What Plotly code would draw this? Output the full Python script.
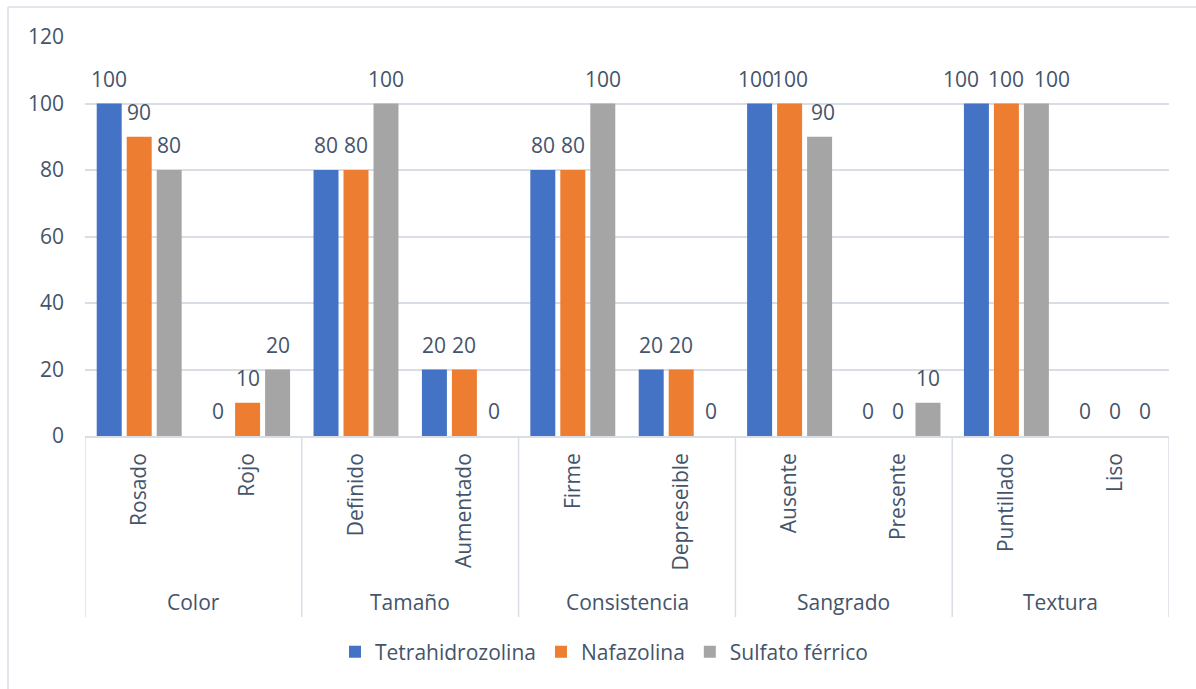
import plotly.graph_objects as go

# Grouped characteristics and their sub-categories
groups = ["Color", "Tamaño", "Consistencia", "Sangrado", "Textura"]
subcategories = ["Rosado", "Rojo", "Definido", "Aumentado", "Firme",
                 "Depreseible", "Ausente", "Presente", "Puntillado", "Liso"]
per_group = 2

series_names = ["Tetrahidrozolina", "Nafazolina", "Sulfato férrico"]
tetrahidrozolina = [100, 0, 80, 20, 80, 20, 100, 0, 100, 0]
nafazolina = [90, 10, 80, 20, 80, 20, 100, 0, 100, 0]
sulfato_ferrico = [80, 20, 100, 0, 100, 0, 90, 10, 100, 0]

y_ticks = [0, 20, 40, 60, 80, 100, 120]

colors = ["#4472C4", "#ED7D31", "#A5A5A5"]
text_color = "#44546A"
line_color = "#D9DEE6"
font_family = "Open Sans, Segoe UI, sans-serif"

W, H = 1196, 689
ML, MR, MT, MB = 85, 27, 37, 253
PW, PH = W - ML - MR, H - MT - MB

BARGAP = 0.17
slot = (1 - BARGAP) / 3          # width of one series slot, in category units
# spread crowded labels apart within a cluster (category -> extra spread)
label_spread = {"Ausente": 0.035, "Puntillado": 0.14}

fig = go.Figure()
all_series = [tetrahidrozolina, nafazolina, sulfato_ferrico]
for name, vals, col in zip(series_names, all_series, colors):
    fig.add_trace(go.Bar(
        name=name, x=subcategories, y=vals,
        marker=dict(color=col, line=dict(width=0)),
        hoverinfo="x+y+name",
    ))

def px_x(px):
    return (px - ML) / PW

def px_y(py):
    return (H - MB - py) / PH

annotations = []
# value labels above each bar
for k, vals in enumerate(all_series):
    for i, (cat, v) in enumerate(zip(subcategories, vals)):
        off = (k - 1) * (slot + label_spread.get(cat, 0))
        annotations.append(dict(
            x=i + off, xref="x", y=v, yref="y", yshift=25,
            text=str(v), showarrow=False, xanchor="center", yanchor="middle",
            font=dict(size=21, color=text_color, family=font_family)))

shapes = []
# group dividers below the axis
axis_bottom = px_y(617)
for k in range(len(groups) + 1):
    xpos = k * per_group - 0.5
    shapes.append(dict(type="line", xref="x", yref="paper", x0=xpos, x1=xpos,
                       y0=0, y1=axis_bottom, line=dict(color=line_color, width=1.5)))
# chart frame (left and top edges)
shapes.append(dict(type="line", xref="paper", yref="paper", x0=px_x(8), x1=px_x(8),
                   y0=px_y(7), y1=px_y(H + 5), line=dict(color=line_color, width=1.5)))
shapes.append(dict(type="line", xref="paper", yref="paper", x0=px_x(8), x1=px_x(W + 5),
                   y0=px_y(7), y1=px_y(7), line=dict(color=line_color, width=1.5)))

for k, g in enumerate(groups):
    annotations.append(dict(
        x=k * per_group + 0.5, xref="x", y=px_y(602), yref="paper",
        text=g, showarrow=False, xanchor="center", yanchor="middle",
        font=dict(size=21, color=text_color, family=font_family)))

fig.update_layout(
    width=W, height=H,
    margin=dict(l=ML, r=MR, t=MT, b=MB, pad=0),
    paper_bgcolor="white", plot_bgcolor="white",
    barmode="group", bargap=BARGAP, bargroupgap=0.167,
    font=dict(family=font_family, size=21, color=text_color),
    showlegend=True,
    legend=dict(orientation="h", x=px_x(604), xanchor="center", y=px_y(652), yanchor="middle",
                font=dict(size=21, color=text_color, family=font_family),
                traceorder="normal", itemwidth=30),
    shapes=shapes, annotations=annotations,
    xaxis=dict(type="category", categoryorder="array", categoryarray=subcategories,
               range=[-0.5, len(subcategories) - 0.5],
               tickangle=-90, showgrid=False, showline=True, linecolor=line_color,
               linewidth=1.5, ticks="", ticklabelstandoff=7,
               tickfont=dict(size=21, color=text_color, family=font_family)),
    yaxis=dict(range=[0, 120], tickvals=y_ticks, showgrid=True, gridcolor=line_color,
               gridwidth=1.5, zeroline=False, showline=False, ticks="",
               ticklabelstandoff=20,
               tickfont=dict(size=21, color=text_color, family=font_family)),
)

fig.write_html("out.html")
